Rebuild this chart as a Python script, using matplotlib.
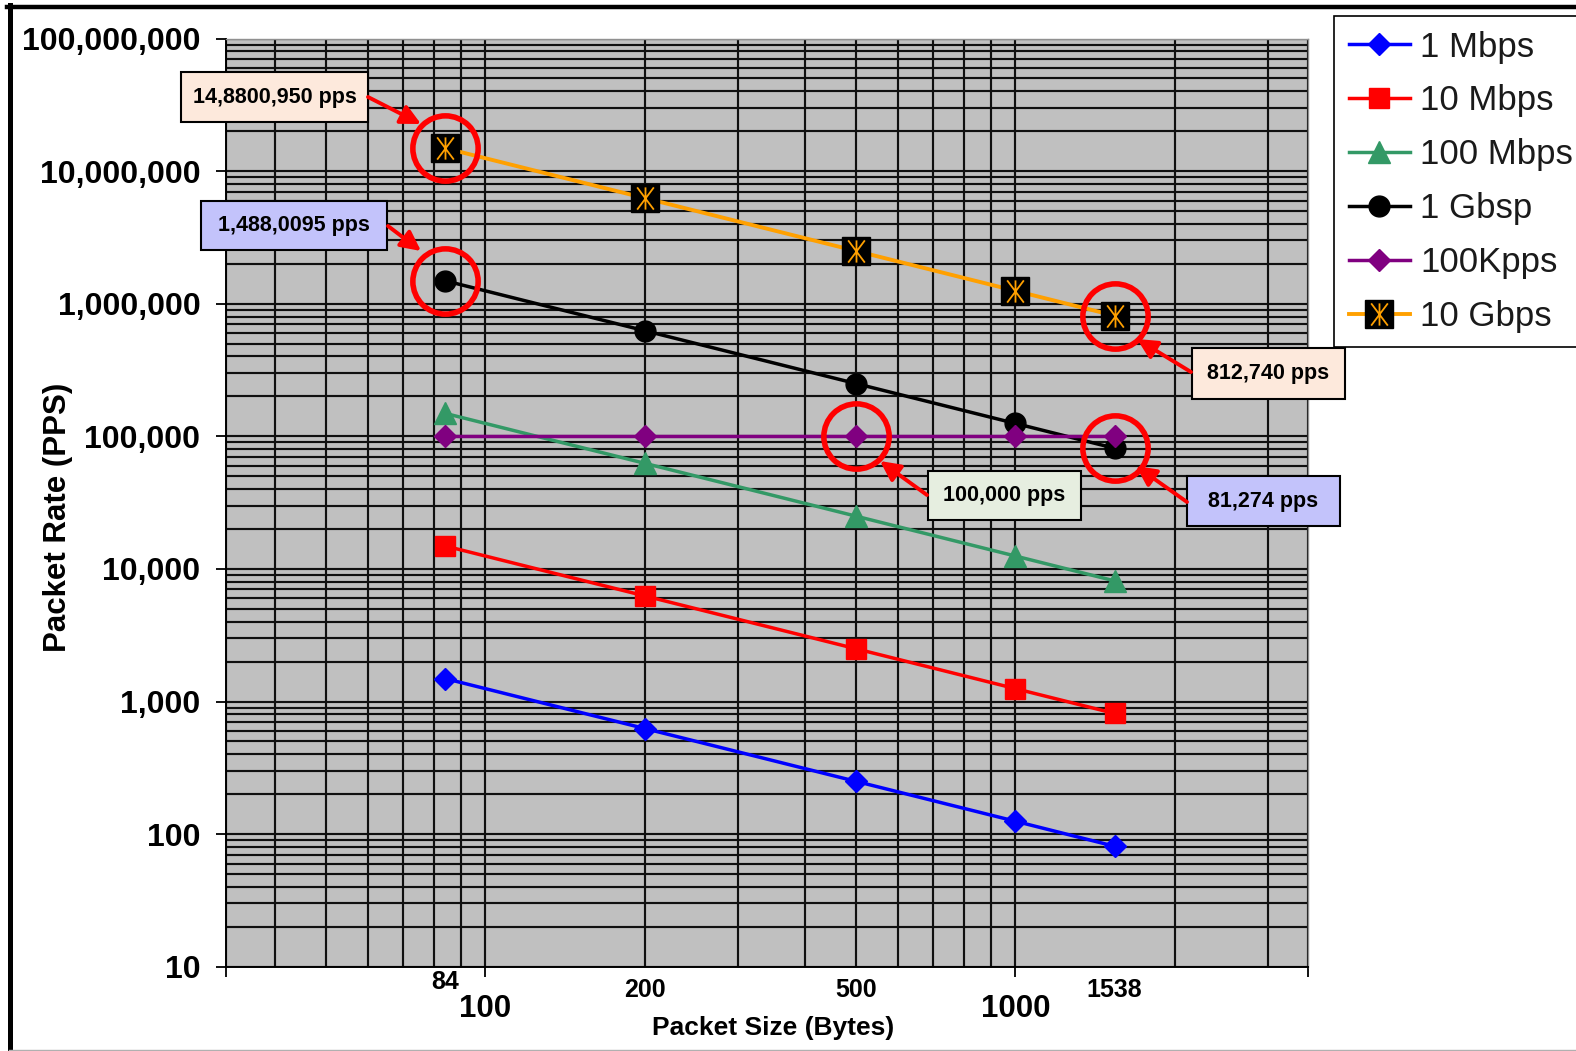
import matplotlib
matplotlib.use("Agg")
import matplotlib.pyplot as plt
from matplotlib.lines import Line2D
from matplotlib.patches import Rectangle, FancyArrowPatch
from matplotlib.path import Path
from matplotlib.ticker import LogLocator, NullFormatter

# packet size (bytes) and packet rate (pps) per link speed
sizes = [84, 200, 500, 1000, 1538]
pps_1m = [1488, 625, 250, 125, 81]
pps_10m = [14881, 6250, 2500, 1250, 813]
pps_100m = [148810, 62500, 25000, 12500, 8127]
pps_1g = [1488095, 625000, 250000, 125000, 81274]
pps_100k = [100000, 100000, 100000, 100000, 100000]
pps_10g = [14880950, 6250000, 2500000, 1250000, 812740]
series_names = ["1 Mbps", "10 Mbps", "100 Mbps", "1 Gbsp", "100Kpps", "10 Gbps"]

y_ticks = [10, 100, 1000, 10000, 100000, 1000000, 10000000, 100000000]
decade_labels = ["100", "1000"]
size_labels = ["84", "200", "500", "1538"]

callout_text = ["14,8800,950 pps", "1,488,0095 pps", "812,740 pps",
                "100,000 pps", "81,274 pps"]
# which point each red circle marks (size, pps)
circled_x = [84, 84, 1538, 500, 1538]
circled_y = [pps_10g[0], pps_1g[0], pps_10g[4], pps_100k[2], pps_1g[4]]

W, H = 1576, 1051


def fx(px):
    return px / W


def fy(py):
    return 1 - py / H


plt.rcParams['font.family'] = ['Liberation Sans', 'DejaVu Sans']

fig = plt.figure(figsize=(W / 100, H / 100), dpi=100)
ax = fig.add_axes([fx(225.7), fy(966.7), (1308 - 225.7) / W, (966.7 - 38.5) / H])
ax.set_facecolor('#c0c0c0')
ax.set_xscale('log')
ax.set_yscale('log')
xmin, xmax = 32.35, 3565
ax.set_xlim(xmin, xmax)
ax.set_ylim(10, 1e8)

# grid
ax.xaxis.set_minor_locator(LogLocator(base=10, subs=range(2, 10), numticks=20))
ax.yaxis.set_minor_locator(LogLocator(base=10, subs=range(2, 10), numticks=20))
ax.xaxis.set_minor_formatter(NullFormatter())
ax.yaxis.set_minor_formatter(NullFormatter())
ax.set_axisbelow(True)
ax.grid(which='both', color='#101010', lw=1.55)
ax.tick_params(which='minor', length=0)

ax.set_xticks([xmin, 100, 1000, xmax], labels=[""] + decade_labels + [""])
ax.set_yticks(y_ticks, labels=[f"{v:,}" for v in y_ticks])
ax.tick_params(axis='both', which='major', direction='out', length=7.2, width=1.3)
ax.tick_params(axis='y', labelsize=23, pad=11)
ax.tick_params(axis='x', labelsize=22.5, pad=12.2)
for lbl in ax.get_xticklabels() + ax.get_yticklabels():
    lbl.set_fontweight('bold')

for side in ['left', 'bottom']:
    ax.spines[side].set_color('black')
    ax.spines[side].set_linewidth(1.4)
for side in ['top', 'right']:
    ax.spines[side].set_color('#909090')
    ax.spines[side].set_linewidth(1.0)

# series
l1, = ax.plot(sizes, pps_1m, color='#0000ff', lw=2.5, marker='D', ms=11.5)
l2, = ax.plot(sizes, pps_10m, color='#ff0000', lw=2.5, marker='s', ms=14.5)
l3, = ax.plot(sizes, pps_100m, color='#339966', lw=2.5, marker='^', ms=16)
l4, = ax.plot(sizes, pps_1g, color='black', lw=2.5, marker='o', ms=15)
l5, = ax.plot(sizes, pps_100k, color='#800080', lw=2.5, marker='D', ms=11.5)
l6, = ax.plot(sizes, pps_10g, color='#ffa000', lw=2.8, marker='s', ms=20,
              mfc='black', mec='black')
star = Path([(0, -1), (0, 1), (-0.75, -1), (0.75, 1), (-0.75, 1), (0.75, -1)],
            [Path.MOVETO, Path.LINETO] * 3)
s6, = ax.plot(sizes, pps_10g, ls='none', marker=star, ms=16, mfc='none',
              mec='#ffa000', mew=1.3)

# red circles
ax.plot(circled_x, circled_y, ls='none', marker='o', ms=47, mfc='none',
        mec='#ff0000', mew=4, zorder=5, clip_on=False)

# packet size labels under the axis
for s, lbl in zip(sizes[:3] + sizes[4:], size_labels):
    yy = -0.017 if s == 84 else -0.0251
    ax.text(s, yy, lbl, transform=ax.get_xaxis_transform(), ha='center',
            va='center', fontsize=18, fontweight='bold')

ax.set_xlabel("Packet Size (Bytes)", fontsize=19, fontweight='bold')
ax.xaxis.label.set_va('center')
ax.xaxis.set_label_coords(0.506, -0.066)
ax.set_ylabel("Packet Rate (PPS)", fontsize=22.5, fontweight='bold')
ax.yaxis.label.set_va('center')
ax.yaxis.set_label_coords(-0.155, 0.484)

# call-out boxes: centre x, centre y, width, height, colour (pixels)
boxes = [(274.5, 97, 187, 50, '#fde9dc'),
         (294, 225.5, 186, 49, '#c3c3fb'),
         (1268, 373, 153, 51, '#fde9dc'),
         (1004.5, 495.5, 153, 49, '#e6eee0'),
         (1263.5, 501, 153, 50, '#c3c3fb')]
arrows = [((368, 97), (421, 124)),
          ((388, 226), (421, 251)),
          ((1191, 372), (1137, 339)),
          ((927, 495), (880, 461)),
          ((1187, 502), (1136, 466))]
for txt, (cx, cy, w, h, fc) in zip(callout_text, boxes):
    fig.add_artist(Rectangle((fx(cx - w / 2), fy(cy + h / 2)), w / W, h / H,
                             transform=fig.transFigure, fc=fc, ec='black',
                             lw=1.5, zorder=6))
    fig.text(fx(cx), fy(cy), txt, ha='center', va='center', fontsize=15.5,
             fontweight='bold', zorder=7)
for (x0, y0), (x1, y1) in arrows:
    fig.add_artist(FancyArrowPatch((fx(x0), fy(y0)), (fx(x1), fy(y1)),
                                   transform=fig.transFigure,
                                   arrowstyle='-|>,head_length=0.6,head_width=0.3',
                                   mutation_scale=20, color='#ff0000', lw=2.8,
                                   shrinkA=0, shrinkB=0, zorder=6))

leg = ax.legend([l1, l2, l3, l4, l5, (l6, s6)], series_names, loc='upper left',
                bbox_to_anchor=(fx(1334), fy(16)), bbox_transform=fig.transFigure,
                borderaxespad=0, fontsize=25, fancybox=False, edgecolor='black',
                framealpha=1, handlelength=1.78, handletextpad=0.29,
                borderpad=0.42, labelspacing=0.6)
leg.get_frame().set_linewidth(1.2)
for t in leg.get_texts():
    t.set_color('#1a1a1a')

# outer frame of the picture
fig.add_artist(Line2D([fx(7), 1], [fy(7), fy(7)], transform=fig.transFigure,
                      color='black', lw=3.2))
fig.add_artist(Line2D([fx(9.5), fx(9.5)], [fy(5), 0], transform=fig.transFigure,
                      color='black', lw=3.6))
fig.add_artist(Line2D([fx(9), 1], [fy(1050), fy(1050)], transform=fig.transFigure,
                      color='#b0b0b0', lw=1))

fig.savefig('out.png', dpi=100, facecolor='white')
